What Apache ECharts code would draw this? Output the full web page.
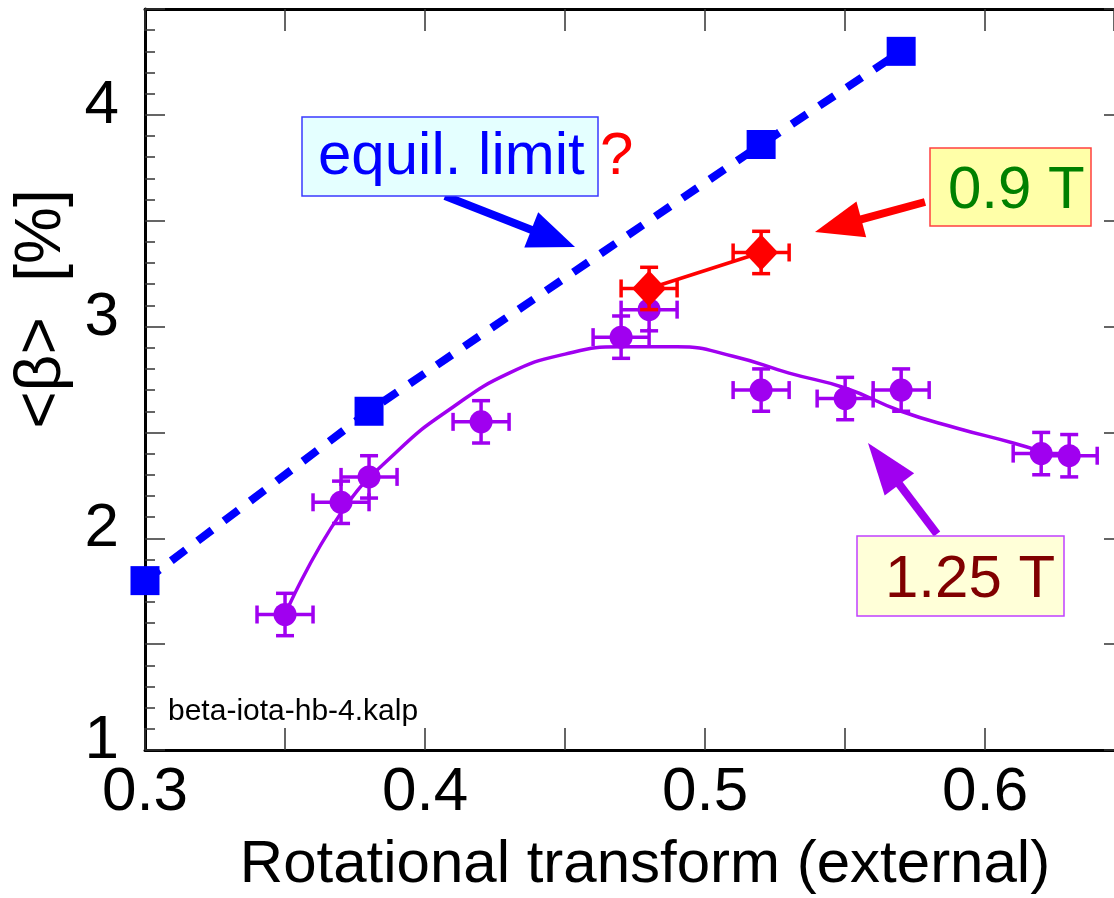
<!DOCTYPE html>
<html>
<head>
<meta charset="utf-8">
<script src="https://cdn.jsdelivr.net/npm/echarts@6/dist/echarts.min.js"></script>
<style>
  html, body { margin: 0; padding: 0; background: #ffffff; }
  #chart { width: 1114px; height: 898px; }
</style>
</head>
<body>
<div id="chart"></div>
<script>
// Equilibrium limit (blue squares, dashed)
const equilX = [0.30, 0.38, 0.52, 0.57];
const equilY = [1.80, 2.60, 3.86, 4.30];

// 0.9 T measurements (red diamonds)
const t09X = [0.48, 0.52];
const t09Y = [3.18, 3.35];
const t09XErr = [0.01, 0.01];
const t09YErr = [0.10, 0.10];

// 1.25 T measurements (violet circles)
const t125X = [0.35, 0.37, 0.38, 0.42, 0.47, 0.48, 0.52, 0.55, 0.57, 0.62, 0.63];
const t125Y = [1.64, 2.17, 2.29, 2.55, 2.95, 3.08, 2.70, 2.66, 2.70, 2.40, 2.39];
const t125XErr = [0.01, 0.01, 0.01, 0.01, 0.01, 0.01, 0.01, 0.01, 0.01, 0.01, 0.01];
const t125YErr = [0.10, 0.10, 0.10, 0.10, 0.10, 0.10, 0.10, 0.10, 0.10, 0.10, 0.10];

// 1.25 T fitted trend
const fitX = [0.35, 0.37, 0.39, 0.41, 0.43, 0.45, 0.47, 0.49, 0.51, 0.53, 0.55, 0.57, 0.59, 0.61, 0.62];
const fitY = [1.64, 2.12, 2.41, 2.62, 2.78, 2.87, 2.905, 2.905, 2.86, 2.78, 2.71, 2.60, 2.52, 2.45, 2.41];

// Tick labels
const xTickLabels = ['0.3', '0.4', '0.5', '0.6'];
const yTickLabels = ['1', '2', '3', '4'];

const FONT = '"Liberation Sans", Arial, Helvetica, sans-serif';
const VIOLET = '#a000f0';

const zip = (xs, ys) => xs.map((x, i) => [x, ys[i]]);
const zipErr = (xs, ys, ex, ey) => xs.map((x, i) => [x, ys[i], ex[i], ey[i]]);

function errorBars(color) {
  return function (params, api) {
    const x = api.value(0), y = api.value(1), ex = api.value(2), ey = api.value(3);
    const l = api.coord([x - ex, y]);
    const r = api.coord([x + ex, y]);
    const t = api.coord([x, y + ey]);
    const b = api.coord([x, y - ey]);
    const cap = 9;
    const style = { stroke: color, lineWidth: 3.5 };
    const seg = (x1, y1, x2, y2) => ({ type: 'line', shape: { x1, y1, x2, y2 }, style });
    return {
      type: 'group',
      children: [
        seg(l[0], l[1], r[0], r[1]),
        seg(t[0], t[1], b[0], b[1]),
        seg(l[0], l[1] - cap, l[0], l[1] + cap),
        seg(r[0], r[1] - cap, r[0], r[1] + cap),
        seg(t[0] - cap, t[1], t[0] + cap, t[1]),
        seg(b[0] - cap, b[1], b[0] + cap, b[1])
      ]
    };
  };
}

function arrow(tail, tip, headLen, headW, shaftW, color) {
  const dx = tip[0] - tail[0], dy = tip[1] - tail[1];
  const len = Math.hypot(dx, dy);
  const ux = dx / len, uy = dy / len;
  const px = -uy, py = ux;
  const bx = tip[0] - ux * headLen, by = tip[1] - uy * headLen;
  return {
    type: 'group',
    children: [
      { type: 'line', shape: { x1: tail[0], y1: tail[1], x2: bx + ux * 4, y2: by + uy * 4 },
        style: { stroke: color, lineWidth: shaftW } },
      { type: 'polygon', shape: { points: [
          [tip[0], tip[1]],
          [bx + px * headW / 2, by + py * headW / 2],
          [bx - px * headW / 2, by - py * headW / 2]
        ] }, style: { fill: color } }
    ]
  };
}

const tickStyle = { color: '#333333', width: 1.5 };
const axisLineStyle = { color: '#000000', width: 3 };

const chart = echarts.init(document.getElementById('chart'), null, { renderer: 'canvas' });

chart.setOption({
  animation: false,
  backgroundColor: '#ffffff',
  grid: { left: 145, top: 9, right: 0, bottom: 148, containLabel: false },
  xAxis: [
    {
      type: 'value', position: 'bottom', min: 0.3, max: 0.646, interval: 0.05,
      axisLine: { show: true, lineStyle: axisLineStyle },
      axisTick: { show: true, inside: true, length: 22, lineStyle: tickStyle },
      splitLine: { show: false },
      axisLabel: {
        show: true, margin: 12, fontSize: 62, fontFamily: FONT, color: '#000000',
        showMaxLabel: false,
        formatter: function (v) {
          const s = v.toFixed(1);
          return (Math.abs(v * 10 - Math.round(v * 10)) < 1e-6 && xTickLabels.indexOf(s) >= 0) ? s : '';
        }
      }
    },
    {
      type: 'value', position: 'top', min: 0.3, max: 0.646, interval: 0.05,
      axisLine: { show: true, onZero: false, lineStyle: axisLineStyle },
      axisTick: { show: true, inside: true, length: 22, lineStyle: tickStyle },
      splitLine: { show: false },
      axisLabel: { show: false }
    }
  ],
  yAxis: [
    {
      type: 'value', position: 'left', min: 1, max: 4.5, interval: 0.5,
      axisLine: { show: true, lineStyle: axisLineStyle },
      axisTick: { show: true, inside: true, length: 20, lineStyle: tickStyle },
      minorTick: { show: true, splitNumber: 5, length: 10, lineStyle: tickStyle },
      splitLine: { show: false },
      axisLabel: {
        show: true, margin: 26, color: '#000000',
        formatter: function (v) {
          const s = String(Math.round(v));
          return (Math.abs(v - Math.round(v)) < 1e-6 && yTickLabels.indexOf(s) >= 0) ? '{v|' + s + '}\n{g|}' : '';
        },
        rich: {
          v: { fontSize: 62, fontFamily: FONT, color: '#000000', lineHeight: 62 },
          g: { fontSize: 10, lineHeight: 18, height: 18 }
        }
      }
    },
    {
      // right frame edge lies just past the visible area; only the ends of its long ticks show
      type: 'value', position: 'right', min: 1, max: 4.5, interval: 0.5,
      axisLine: { show: false },
      axisTick: { show: true, inside: true, length: 10, lineStyle: tickStyle },
      minorTick: { show: false },
      splitLine: { show: false },
      axisLabel: { show: false }
    }
  ],
  series: [
    {
      name: 'fit 1.25 T', type: 'line', data: zip(fitX, fitY), smooth: 0.5,
      showSymbol: false, symbol: 'none', z: 2,
      lineStyle: { color: VIOLET, width: 3.5 }
    },
    {
      name: 'err 1.25 T', type: 'custom', data: zipErr(t125X, t125Y, t125XErr, t125YErr),
      renderItem: errorBars(VIOLET), z: 3
    },
    {
      name: '1.25 T', type: 'scatter', data: zip(t125X, t125Y), symbol: 'circle', symbolSize: 23,
      itemStyle: { color: VIOLET, opacity: 1 }, z: 4
    },
    {
      name: 'line 0.9 T', type: 'line', data: zip(t09X, t09Y), showSymbol: false, symbol: 'none',
      lineStyle: { color: '#ff0000', width: 3.5 }, z: 5
    },
    {
      name: 'err 0.9 T', type: 'custom', data: zipErr(t09X, t09Y, t09XErr, t09YErr),
      renderItem: errorBars('#ff0000'), z: 6
    },
    {
      name: '0.9 T', type: 'scatter', data: zip(t09X, t09Y), symbol: 'diamond', symbolSize: [34, 36],
      itemStyle: { color: '#ff0000', opacity: 1 }, z: 7
    },
    {
      name: 'equil. limit', type: 'line', data: zip(equilX, equilY), symbol: 'rect', symbolSize: 29,
      showSymbol: true, itemStyle: { color: '#0000ff', opacity: 1 },
      lineStyle: { color: '#0000ff', width: 8, type: [18, 15] }, z: 8
    }
  ],
  graphic: [
    // y-axis title
    {
      type: 'text', x: 42, y: 309, rotation: Math.PI / 2,
      style: { text: '<\u03b2>  [%]', font: '64px ' + FONT, fill: '#000000', align: 'center', verticalAlign: 'middle' }
    },
    // x-axis title
    {
      type: 'text', x: 645, y: 865,
      style: { text: 'Rotational transform (external)', font: '60px ' + FONT, fill: '#000000', align: 'center', verticalAlign: 'middle' }
    },
    // file tag
    {
      type: 'text', x: 168, y: 712,
      style: { text: 'beta-iota-hb-4.kalp', font: '30px ' + FONT, fill: '#000000', align: 'left', verticalAlign: 'middle' }
    },
    // equilibrium limit label
    {
      type: 'rect', shape: { x: 302, y: 117, width: 296, height: 79 },
      style: { fill: '#e4ffff', stroke: '#3a3aff', lineWidth: 1.5 }, z: 20
    },
    {
      type: 'text', x: 318, y: 157, z: 21,
      style: { text: 'equil. limit', font: '60px ' + FONT, fill: '#0000ff', align: 'left', verticalAlign: 'middle' }
    },
    {
      type: 'text', x: 600, y: 157, z: 21,
      style: { text: '?', font: '60px ' + FONT, fill: '#ff0000', align: 'left', verticalAlign: 'middle' }
    },
    Object.assign(arrow([445, 196], [575, 247], 47, 38, 8, '#0000ff'), { z: 19 }),
    // 0.9 T label
    {
      type: 'rect', shape: { x: 930, y: 148, width: 161, height: 78 },
      style: { fill: '#ffffa8', stroke: '#ff4040', lineWidth: 1.5 }, z: 20
    },
    {
      type: 'text', x: 948, y: 191, z: 21,
      style: { text: '0.9 T', font: '60px ' + FONT, fill: '#008000', align: 'left', verticalAlign: 'middle' }
    },
    Object.assign(arrow([925, 202], [815, 232], 48, 37, 8, '#ff0000'), { z: 19 }),
    // 1.25 T label
    {
      type: 'rect', shape: { x: 857, y: 536, width: 207, height: 80 },
      style: { fill: '#ffffd8', stroke: '#c040ff', lineWidth: 1.5 }, z: 20
    },
    {
      type: 'text', x: 885, y: 580, z: 21,
      style: { text: '1.25 T', font: '60px ' + FONT, fill: '#800000', align: 'left', verticalAlign: 'middle' }
    },
    Object.assign(arrow([937, 534], [868, 443], 52, 37, 8, VIOLET), { z: 19 })
  ]
});
</script>
</body>
</html>
